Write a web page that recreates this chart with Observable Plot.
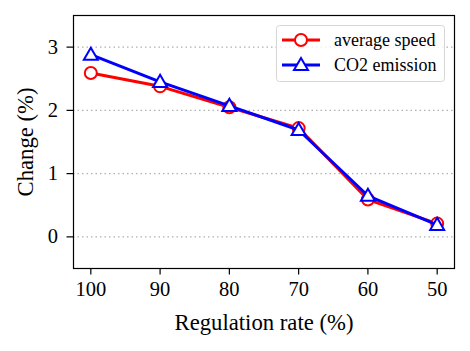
<!DOCTYPE html>
<html><head><meta charset="utf-8">
<script src="https://cdn.jsdelivr.net/npm/d3@7"></script>
<script src="https://cdn.jsdelivr.net/npm/@observablehq/plot@0.6"></script>
<style>body{margin:0;background:#fff}</style>
</head><body><div id="chart"></div>
<script>
const rates = [100, 90, 80, 70, 60, 50];
const speedChange = [2.59, 2.38, 2.05, 1.72, 0.59, 0.21];
const co2Change = [2.88, 2.45, 2.07, 1.69, 0.65, 0.19];
const yTicks = [0, 1, 2, 3];
const seriesNames = ["average speed", "CO2 emission"];
const xLabel = "Regulation rate (%)";
const yLabel = "Change (%)";

const speed = rates.map((r, i) => ({rate: r, value: speedChange[i]}));
const co2 = rates.map((r, i) => ({rate: r, value: co2Change[i]}));
const font = "'Liberation Serif', 'Times New Roman', serif";

const plot = Plot.plot({
  width: 470, height: 351,
  marginLeft: 73, marginRight: 16, marginTop: 15, marginBottom: 83,
  style: {fontFamily: font, fontSize: "20px", background: "#fff", color: "#000"},
  x: {domain: [102.5, 47.5]},
  y: {domain: [-0.5, 3.5]},
  marks: [
    Plot.ruleY(yTicks, {stroke: "#b0b0b0", strokeWidth: 1.4, strokeDasharray: "1.5,3"}),
    Plot.axisX(rates, {tickSize: 6.5, tickPadding: 6, fontSize: 20.5, label: null, tickFormat: d => d, strokeWidth: 1.2}),
    Plot.axisY(yTicks, {tickSize: 6.5, tickPadding: 9, fontSize: 20.5, label: null, tickFormat: d => d, strokeWidth: 1.2}),
    Plot.axisX({anchor: "bottom", ticks: [], tickSize: 0, label: xLabel, labelAnchor: "center", labelArrow: "none", labelOffset: 61, fontSize: 22.7}),
    Plot.axisY({anchor: "left", ticks: [], tickSize: 0, label: yLabel, labelAnchor: "center", labelArrow: "none", labelOffset: 57, fontSize: 22.7}),
    Plot.line(speed, {x: "rate", y: "value", stroke: "#ff0000", strokeWidth: 3}),
    Plot.dot(speed, {x: "rate", y: "value", r: 6, stroke: "#ff0000", strokeWidth: 2, fill: "#fff"}),
    Plot.line(co2, {x: "rate", y: "value", stroke: "#0000ff", strokeWidth: 3}),
    Plot.dot(co2, {x: "rate", y: "value", r: 5.2, symbol: "triangle", stroke: "#0000ff", strokeWidth: 2, fill: "#fff", dy: 1}),
    Plot.frame({stroke: "#000", strokeWidth: 1.2})
  ]
});
document.getElementById("chart").appendChild(plot);

// legend
const svg = d3.select(plot);
const lg = svg.append("g").attr("font-family", font).attr("font-size", 18).attr("text-anchor", "start");
lg.append("rect").attr("x", 276.5).attr("y", 25.5).attr("width", 168).attr("height", 56)
  .attr("rx", 3).attr("fill", "#fff").attr("fill-opacity", 0.8).attr("stroke", "#d6d6d6").attr("stroke-width", 1);
const colors = ["#ff0000", "#0000ff"];
seriesNames.forEach((name, i) => {
  const y = 40 + i * 25;
  lg.append("line").attr("x1", 282).attr("x2", 320).attr("y1", y).attr("y2", y)
    .attr("stroke", colors[i]).attr("stroke-width", 3);
  if (i === 0) {
    lg.append("circle").attr("cx", 301).attr("cy", y).attr("r", 6)
      .attr("fill", "#fff").attr("stroke", colors[i]).attr("stroke-width", 2);
  } else {
    lg.append("path").attr("transform", `translate(301,${y + 1})`)
      .attr("d", d3.symbol(d3.symbolTriangle, 5.2 * 5.2 * Math.PI)())
      .attr("fill", "#fff").attr("stroke", colors[i]).attr("stroke-width", 2);
  }
  lg.append("text").attr("x", 334).attr("y", y).attr("dy", "0.35em").attr("text-anchor", "start").text(name);
});
</script></body></html>
